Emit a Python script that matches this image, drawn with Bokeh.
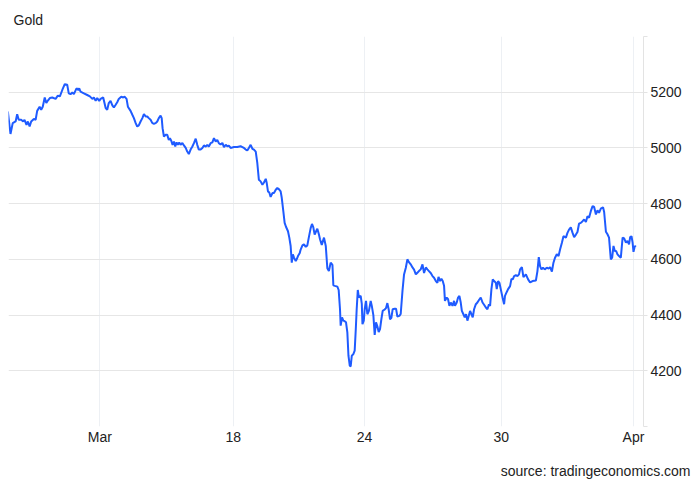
from bokeh.plotting import figure
from bokeh.models import Range1d, FixedTicker, Title
from bokeh.embed import file_html
from bokeh.resources import INLINE

# time axis in days (tick "Mar" at 12, "Apr" at 36)
days = [
    7.86, 7.98, 8.08, 8.21, 8.28, 8.35, 8.46, 8.55, 8.61, 8.70, 8.76, 8.84, 8.91, 9.03, 9.11, 9.18,
    9.29, 9.36, 9.43, 9.52, 9.59, 9.66, 9.75, 9.86, 10.01, 10.11, 10.20, 10.31, 10.42, 10.53, 10.60,
    10.68, 10.76, 10.83, 10.95, 11.03, 11.07, 11.13, 11.28, 11.43, 11.55, 11.66, 11.73, 11.81, 11.88,
    11.97, 12.03,
    12.15, 12.26, 12.33, 12.40, 12.48, 12.56, 12.63, 12.71, 12.78, 12.85, 12.96, 13.05, 13.11, 13.20,
    13.26, 13.38, 13.46, 13.53, 13.61, 13.68, 13.75, 13.83, 13.91, 13.98, 14.06, 14.13, 14.20, 14.28,
    14.36, 14.43, 14.51, 14.58, 14.65, 14.73, 14.78, 14.82, 14.88, 14.96, 15.03, 15.10, 15.15, 15.21,
    15.27, 15.33, 15.39, 15.45, 15.51, 15.57, 15.63, 15.71, 15.78, 15.86, 15.93, 16.00, 16.08, 16.16,
    16.23, 16.31, 16.38, 16.45, 16.53, 16.61, 16.68, 16.76, 16.83, 16.90, 16.98, 17.06, 17.13, 17.21,
    17.28, 17.35,
    17.43, 17.51, 17.58, 17.66, 17.73, 17.80, 17.88, 18.03, 18.18, 18.33, 18.41, 18.48, 18.56, 18.63,
    18.70, 18.78, 18.86, 18.93, 19.01, 19.08, 19.15, 19.23, 19.31, 19.38, 19.46, 19.50, 19.56, 19.62,
    19.68, 19.76, 19.83, 19.91, 19.98, 20.05, 20.13, 20.18, 20.25, 20.31, 20.37, 20.46, 20.52, 20.58,
    20.63, 20.68, 20.73, 20.81, 20.85, 20.91, 20.99, 21.03, 21.11, 21.18, 21.26, 21.33, 21.40, 21.48,
    21.54, 21.60, 21.66, 21.72, 21.78, 21.85, 21.90, 21.98, 22.08, 22.16, 22.23, 22.30, 22.38, 22.46,
    22.50, 22.57, 22.68, 22.74, 22.80, 22.83, 22.89, 22.95, 23.01, 23.07, 23.13, 23.18, 23.24, 23.28,
    23.33, 23.40, 23.46, 23.51, 23.55, 23.60, 23.65, 23.73, 23.78, 23.81, 23.87, 23.91, 23.97, 24.03,
    24.10, 24.18, 24.23, 24.30, 24.36, 24.42, 24.48, 24.54, 24.60, 24.66, 24.72, 24.81, 24.87, 24.93,
    24.99, 25.05, 25.11, 25.17, 25.26, 25.32, 25.38, 25.47, 25.53, 25.61, 25.68, 25.76, 25.83, 25.90,
    25.98, 26.06, 26.13, 26.21, 26.28, 26.35, 26.43, 26.51, 26.58, 26.66, 26.73, 26.80, 26.88, 26.96,
    27.03, 27.11, 27.18, 27.23, 27.30, 27.36, 27.42, 27.48, 27.52, 27.60, 27.66, 27.72, 27.78, 27.86,
    27.93, 27.97, 28.05, 28.11, 28.17, 28.23, 28.28, 28.35, 28.41, 28.47, 28.53, 28.59, 28.65, 28.71,
    28.77, 28.83, 28.91, 28.98, 29.05, 29.13, 29.21, 29.28, 29.36, 29.43, 29.50, 29.55, 29.61, 29.67,
    29.73, 29.81, 29.85, 29.91, 29.97, 30.03, 30.11, 30.18, 30.22, 30.30, 30.36, 30.45, 30.51, 30.57,
    30.63, 30.71, 30.78, 30.85, 30.90, 30.98, 31.05, 31.16, 31.26, 31.35, 31.46, 31.61, 31.68, 31.74,
    31.80, 31.86, 31.93, 32.01, 32.10, 32.18, 32.25, 32.33, 32.40, 32.47, 32.55, 32.63, 32.70, 32.78,
    32.85, 32.96, 33.03, 33.10, 33.18, 33.26, 33.33, 33.41, 33.48, 33.55, 33.63, 33.71, 33.78, 33.86,
    33.93, 34.00, 34.08, 34.16, 34.23, 34.31, 34.38, 34.45, 34.53, 34.63, 34.68, 34.76, 34.83, 34.90,
    34.98, 35.04, 35.10, 35.16, 35.22, 35.28, 35.35, 35.43, 35.51, 35.58, 35.66, 35.73, 35.80, 35.85,
    35.91, 35.96, 36.00, 36.06, 36.11,
]

price = [
    5131, 5050, 5089, 5095, 5121, 5101, 5101, 5095, 5101, 5083, 5095, 5077, 5095, 5104, 5101, 5133,
    5148, 5137, 5148, 5181, 5161, 5170, 5179, 5181, 5176, 5188, 5185, 5208, 5229, 5227, 5196,
    5193, 5199, 5193, 5214, 5208, 5214, 5202, 5196, 5190, 5185, 5176, 5181, 5169, 5179,
    5169, 5176,
    5181, 5143, 5137, 5161, 5169, 5153, 5145, 5155, 5164, 5176, 5184, 5181, 5184, 5176,
    5148, 5133, 5119, 5107, 5089, 5077, 5081, 5095, 5107, 5121, 5113, 5113, 5107, 5101,
    5089, 5087, 5089, 5095, 5107, 5116, 5107, 5071, 5041, 5047, 5047, 5029, 5035, 5026,
    5011, 5023, 5005, 5020, 5011, 5020, 5011, 5018, 5009, 5000, 4987, 4978, 4994, 5005,
    5017, 5033, 5011, 4994, 4994, 5000, 5009, 5005, 5011, 5005, 5017, 5020, 5035, 5023,
    5029, 5017,
    5012, 5018, 5003, 5011, 5006, 5008, 5000, 5003, 5003, 5006, 5003, 5000, 4994, 4991,
    5000, 5011, 4997, 4994, 4987, 4946, 4886, 4880, 4868, 4876, 4889, 4876, 4844, 4840,
    4824, 4838, 4838, 4850, 4856, 4852, 4844, 4821, 4773, 4731, 4717, 4701, 4678, 4648,
    4588, 4618, 4606, 4594, 4600, 4612, 4623, 4635, 4650, 4654, 4645, 4650, 4680, 4712,
    4727, 4715, 4689, 4700, 4710, 4690, 4672, 4652, 4678, 4648, 4568, 4558, 4588, 4580,
    4507, 4505, 4502, 4490, 4421, 4362, 4392, 4380, 4378, 4374, 4338, 4254, 4218, 4216,
    4254, 4260, 4272, 4350, 4421, 4490, 4463, 4469, 4440, 4367, 4380, 4421, 4451, 4403,
    4415, 4451, 4433, 4400, 4329, 4374, 4360, 4339, 4350, 4385, 4415, 4420, 4425, 4443,
    4420, 4385, 4390, 4421, 4423, 4423, 4395, 4397, 4404, 4487, 4546, 4570, 4600, 4590,
    4582, 4571, 4563, 4546, 4552, 4558, 4564, 4582, 4551, 4571, 4564, 4558, 4551, 4540,
    4534, 4522, 4516, 4537, 4522, 4530, 4522, 4505, 4451, 4463, 4457, 4433, 4445, 4433,
    4451, 4433, 4445, 4463, 4469, 4445, 4415, 4403, 4392, 4403, 4380, 4397, 4415, 4403,
    4392, 4421, 4439, 4445, 4454, 4463, 4445, 4437, 4427, 4421, 4439, 4433, 4493, 4528,
    4522, 4516, 4493, 4522, 4516, 4493, 4463, 4439, 4469, 4483, 4493, 4504, 4530, 4528,
    4540, 4543, 4540, 4546, 4564, 4572, 4536, 4546, 4528, 4517, 4522, 4524, 4558, 4608,
    4575, 4564, 4570, 4564, 4570, 4567, 4572, 4556, 4588, 4606, 4618, 4612, 4636, 4660,
    4683, 4678, 4695, 4707, 4715, 4695, 4680, 4689, 4698, 4728, 4731, 4737, 4743, 4734,
    4755, 4749, 4773, 4791, 4788, 4761, 4776, 4767, 4782, 4787, 4770, 4699, 4690, 4678,
    4600, 4606, 4648, 4630, 4630, 4618, 4612, 4606, 4678, 4675, 4660, 4666, 4654, 4680,
    4683, 4660, 4627, 4648, 4645,
]

x_ticks = [12, 18, 23.9, 30.05, 36]
x_tick_labels = ["Mar", "18", "24", "30", "Apr"]
y_ticks = [4000, 4200, 4400, 4600, 4800, 5000, 5200, 5400]
y_tick_labels = ["", "4200", "4400", "4600", "4800", "5000", "5200", ""]

title_text = "Gold"
source_text = "source: tradingeconomics.com"

FONT = "Liberation Sans"
FS = "14px"
TEXT = "#222222"

p = figure(width=692, height=481, output_backend="svg", toolbar_location=None,
           x_range=Range1d(7.89, 36.45), y_range=Range1d(4000, 5400),
           y_axis_location="right",
           min_border_left=8, min_border_right=49, min_border_top=36, min_border_bottom=55)
p.outline_line_color = None
p.background_fill_color = "white"
p.border_fill_color = "white"

p.line(days, price, line_color="#1f5bff", line_width=2)

# x axis
p.xaxis.ticker = FixedTicker(ticks=x_ticks)
p.xaxis.major_label_overrides = dict(zip(x_ticks, x_tick_labels))
p.xaxis.axis_line_color = None
p.xaxis.major_tick_line_color = None
p.xaxis.major_tick_in = 0
p.xaxis.major_tick_out = 0
p.xaxis.minor_tick_line_color = None
p.xaxis.major_label_standoff = 2
p.xaxis.major_label_text_font = FONT
p.xaxis.major_label_text_font_size = FS
p.xaxis.major_label_text_color = TEXT
p.xaxis.axis_label = " "
p.xaxis.axis_label_standoff = 7
p.xaxis.axis_label_text_font_size = "1px"

# y axis
p.yaxis.ticker = FixedTicker(ticks=y_ticks)
p.yaxis.major_label_overrides = dict(zip(y_ticks, y_tick_labels))
p.yaxis.axis_line_color = "#e3e3e3"
p.yaxis.major_tick_line_color = "#e3e3e3"
p.yaxis.major_tick_in = 0
p.yaxis.major_tick_out = 4
p.yaxis.minor_tick_line_color = None
p.yaxis.major_label_standoff = 3
p.yaxis.major_label_text_font = FONT
p.yaxis.major_label_text_font_size = FS
p.yaxis.major_label_text_color = TEXT

p.xgrid.ticker = FixedTicker(ticks=x_ticks)
p.xgrid.grid_line_color = "#edf0f4"
p.ygrid.ticker = FixedTicker(ticks=y_ticks)
p.ygrid.grid_line_color = "#e6e6e6"

p.add_layout(Title(text=title_text, align="left", offset=5, standoff=18,
                   text_font=FONT, text_font_size=FS, text_font_style="normal",
                   text_color=TEXT), "above")
p.add_layout(Title(text=source_text, align="right", offset=-47, standoff=4,
                   text_font=FONT, text_font_size=FS, text_font_style="normal",
                   text_color=TEXT), "below")

open("out.html", "w").write(file_html(p, INLINE))
